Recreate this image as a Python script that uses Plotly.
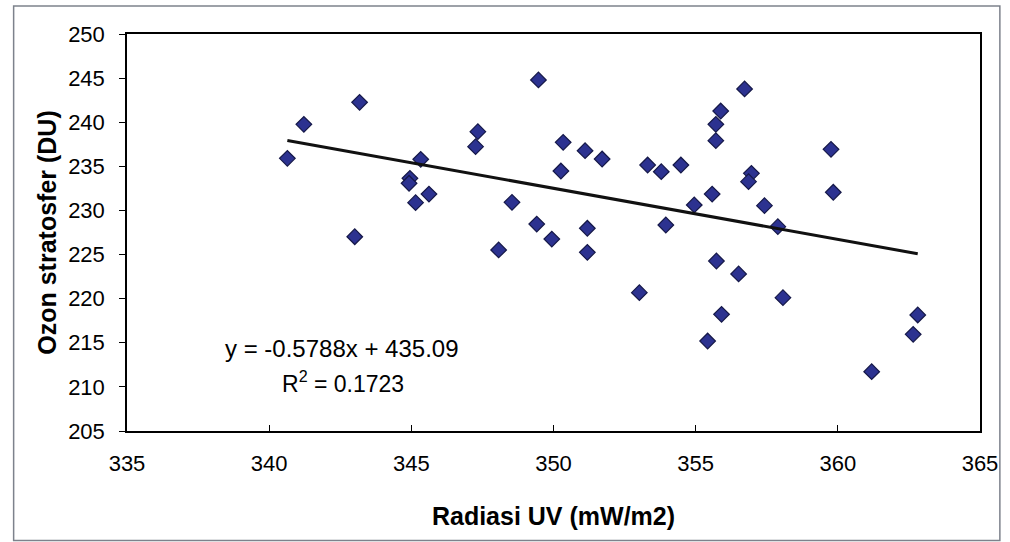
import plotly.graph_objects as go

# Data
uv = [340.64, 341.22, 343.18, 343.01, 345.33, 344.95, 344.92, 345.62, 345.15, 347.34,
      347.26, 348.54, 348.07, 349.47, 350.34, 350.26, 349.41, 349.94, 351.11, 351.71,
      351.19, 351.19, 353.31, 353.79, 354.48, 353.95, 353.02, 354.95, 355.58, 355.88,
      355.71, 355.71, 356.72, 355.73, 356.51, 355.91, 355.42, 356.96, 356.86, 357.42,
      359.76, 359.84, 357.89, 358.07, 362.81, 362.65, 361.19]
ozon = [235.91, 239.76, 242.26, 227.02, 235.80, 233.64, 233.08, 231.86, 230.88, 238.93,
        237.23, 230.92, 225.52, 244.79, 237.72, 234.47, 228.46, 226.76, 236.77, 235.83,
        227.98, 225.25, 235.15, 234.39, 235.15, 228.35, 220.68, 230.62, 231.86, 241.27,
        239.76, 237.91, 243.77, 224.27, 222.80, 218.23, 215.20, 234.21, 233.26, 230.54,
        236.93, 232.06, 228.16, 220.11, 218.15, 215.96, 211.72]

slope = -0.5788
intercept = 435.09
r2 = 0.1723

x_ticks = [335, 340, 345, 350, 355, 360, 365]
y_ticks = [205, 210, 215, 220, 225, 230, 235, 240, 245, 250]

trend_x = [min(uv), max(uv)]
trend_y = [slope * v + intercept for v in trend_x]

FONT = "Liberation Sans, Arial, sans-serif"

fig = go.Figure()
fig.add_trace(go.Scatter(
    x=uv, y=ozon, mode="markers",
    marker=dict(symbol="diamond", size=12, color="#2c3290",
                line=dict(color="#151848", width=1.2)),
    showlegend=False))
fig.add_trace(go.Scatter(
    x=trend_x, y=trend_y, mode="lines",
    line=dict(color="#111111", width=3), showlegend=False))

fig.add_annotation(x=342.55, y=214.3, xref="x", yref="y",
                   text=f"y = {slope}x + {intercept}", showarrow=False,
                   font=dict(family=FONT, size=24, color="black"))
fig.add_annotation(x=342.6, y=210.55, xref="x", yref="y",
                   text=f"R<sup>2</sup> = {r2}", showarrow=False,
                   font=dict(family=FONT, size=23, color="black"))

# outer frame
fig.add_shape(type="rect", xref="paper", yref="paper",
              x0=-0.1329, x1=1.0233, y0=-0.2758, y1=1.0705,
              line=dict(color="#7d828c", width=1.5), layer="below")

fig.update_xaxes(range=[335, 365], tickvals=x_ticks, showgrid=False, zeroline=False,
                 showline=True, linecolor="black", linewidth=1.5, mirror=True,
                 ticks="inside", ticklen=6, tickcolor="black", ticklabelstandoff=12,
                 tickfont=dict(family=FONT, size=22, color="black"),
                 title=dict(text="<b>Radiasi UV (mW/m2)</b>", standoff=32,
                            font=dict(family=FONT, size=25, color="black")))
fig.update_yaxes(range=[205, 250], tickvals=y_ticks, showgrid=False, zeroline=False,
                 showline=True, linecolor="black", linewidth=1.5, mirror=True,
                 ticks="outside", ticklen=6, tickcolor="black", ticklabelstandoff=10,
                 tickfont=dict(family=FONT, size=22, color="black"),
                 title=dict(text="<b>Ozon stratosfer (DU)</b>", standoff=4,
                            font=dict(family=FONT, size=25, color="black")))

fig.update_layout(width=1010, height=542,
                  margin=dict(l=127, r=25, t=34, b=111),
                  paper_bgcolor="white", plot_bgcolor="white")

fig.write_html("out.html", config={"displayModeBar": False},
               post_script="document.body.style.margin='0';")
